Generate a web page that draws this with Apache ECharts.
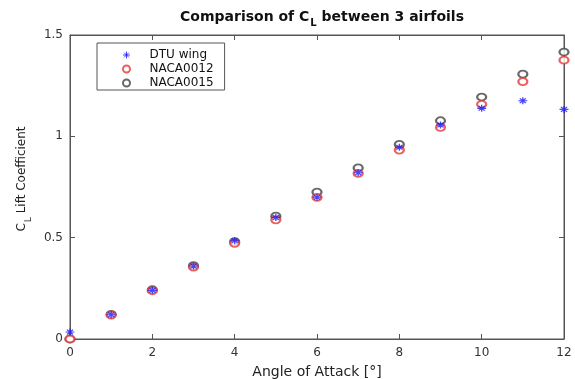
<!DOCTYPE html>
<html>
<head>
<meta charset="utf-8">
<script src="https://cdn.jsdelivr.net/npm/echarts@6/dist/echarts.min.js"></script>
<style>
  html, body { margin: 0; padding: 0; background: #fff; }
  #chart { width: 575px; height: 379px; }
</style>
</head>
<body>
<div id="chart"></div>
<script>
    var angles = [0, 1, 2, 3, 4, 5, 6, 7, 8, 9, 10, 11, 12];
    var dtuWing = [0.035, 0.12, 0.24, 0.36, 0.485, 0.60, 0.70, 0.82, 0.946, 1.056, 1.138, 1.176, 1.133];
    var naca0012 = [0, 0.118, 0.238, 0.355, 0.472, 0.588, 0.699, 0.817, 0.932, 1.044, 1.158, 1.27, 1.376];
    var naca0015 = [0, 0.122, 0.243, 0.362, 0.48, 0.606, 0.725, 0.844, 0.96, 1.077, 1.194, 1.307, 1.416];

    var asterisk = 'path://M5,0L5,10M0,5L10,5M1.6,1.6L8.4,8.4M8.4,1.6L1.6,8.4';
    var fontName = 'DejaVu Sans, Liberation Sans, sans-serif';
    var axisGrey = '#555';
    var blue = '#1a1aff', red = '#e53a35', grey = '#444';

    function pairs(ys) {
        var out = [];
        for (var i = 0; i < angles.length; i++) {
            out.push([angles[i], ys[i]]);
        }
        return out;
    }

    // axis with ticks pointing into the plot, like the matlab box
    function boxAxis(extra) {
        var ax = {
            type: 'value',
            axisLine: { show: true, onZero: false, lineStyle: { color: axisGrey } },
            axisTick: { show: true, inside: true, length: 5, lineStyle: { color: axisGrey, width: 1 } },
            splitLine: { show: false }
        };
        for (var k in extra) ax[k] = extra[k];
        return ax;
    }

    var myChart = echarts.init(document.getElementById('chart'));

    var option = {
        animation: false,
        textStyle: { fontFamily: fontName },
        title: {
            text: '{t|Comparison of C}{s|L}{t| between 3 airfoils}',
            left: 317,
            textAlign: 'center',
            top: 5,
            textStyle: {
                rich: {
                    t: { fontSize: 14, fontWeight: 'bold', color: '#111', fontFamily: fontName, lineHeight: 20, verticalAlign: 'top' },
                    s: { fontSize: 10, fontWeight: 'bold', color: '#111', fontFamily: fontName, lineHeight: 20, verticalAlign: 'top', padding: [8, 0, 0, 1] }
                }
            }
        },
        legend: {
            orient: 'vertical',
            left: 97,
            top: 43,
            itemWidth: 12,
            itemHeight: 7,
            itemGap: 0,
            padding: [5, 11, 0, 25],
            borderColor: axisGrey,
            borderWidth: 1,
            backgroundColor: '#fff',
            textStyle: { fontSize: 12, color: '#111', fontFamily: fontName, lineHeight: 14, padding: [0, 0, 0, 12] },
            data: [
                { name: 'DTU wing', icon: asterisk, itemStyle: { color: 'rgba(0,0,0,0)', borderColor: blue, borderWidth: 1 } },
                'NACA0012',
                'NACA0015'
            ]
        },
        grid: {
            left: 70,
            right: 11,
            top: 35,
            bottom: 40,
            outerBoundsMode: 'none',
            show: true,
            borderColor: axisGrey,
            borderWidth: 1
        },
        xAxis: [boxAxis({
            min: 0,
            max: 12,
            interval: 2,
            name: 'Angle of Attack [°]',
            nameLocation: 'middle',
            nameGap: 26,
            nameTextStyle: { fontSize: 14, color: '#222', fontFamily: fontName },
            axisLabel: { fontSize: 12, color: '#333', margin: 8 }
        }), boxAxis({
            position: 'top',
            min: 0,
            max: 12,
            interval: 2,
            axisLabel: { show: false }
        })],
        yAxis: [boxAxis({
            min: 0,
            max: 1.5,
            interval: 0.5,
            name: '{m|C}{s|L}{m| Lift Coefficient}',
            nameLocation: 'middle',
            nameGap: 31,
            nameTextStyle: {
                padding: [0, 0, 0, 16],
                rich: {
                    m: { fontSize: 12, color: '#222', fontFamily: fontName, lineHeight: 18, verticalAlign: 'top' },
                    s: { fontSize: 9, color: '#222', fontFamily: fontName, lineHeight: 18, verticalAlign: 'top', padding: [8, 0, 0, 1] }
                }
            },
            axisLabel: { fontSize: 12, color: '#333', margin: 7 }
        }), boxAxis({
            position: 'right',
            min: 0,
            max: 1.5,
            interval: 0.5,
            axisLabel: { show: false }
        })],
        series: [{
            name: 'NACA0015',
            type: 'scatter',
            symbol: 'emptyCircle',
            symbolSize: [9, 7],
            itemStyle: { color: grey, borderColor: grey, borderWidth: 1 },
            data: pairs(naca0015),
            z: 2
        }, {
            name: 'NACA0012',
            type: 'scatter',
            symbol: 'emptyCircle',
            symbolSize: [9, 7],
            itemStyle: { color: red, borderColor: red, borderWidth: 1 },
            data: pairs(naca0012),
            z: 3
        }, {
            name: 'DTU wing',
            type: 'scatter',
            symbol: asterisk,
            symbolSize: [9, 7],
            itemStyle: { color: 'rgba(0,0,0,0)', borderColor: blue, borderWidth: 1.2 },
            data: pairs(dtuWing),
            z: 4
        }]
    };

    myChart.setOption(option);
</script>
</body>
</html>
